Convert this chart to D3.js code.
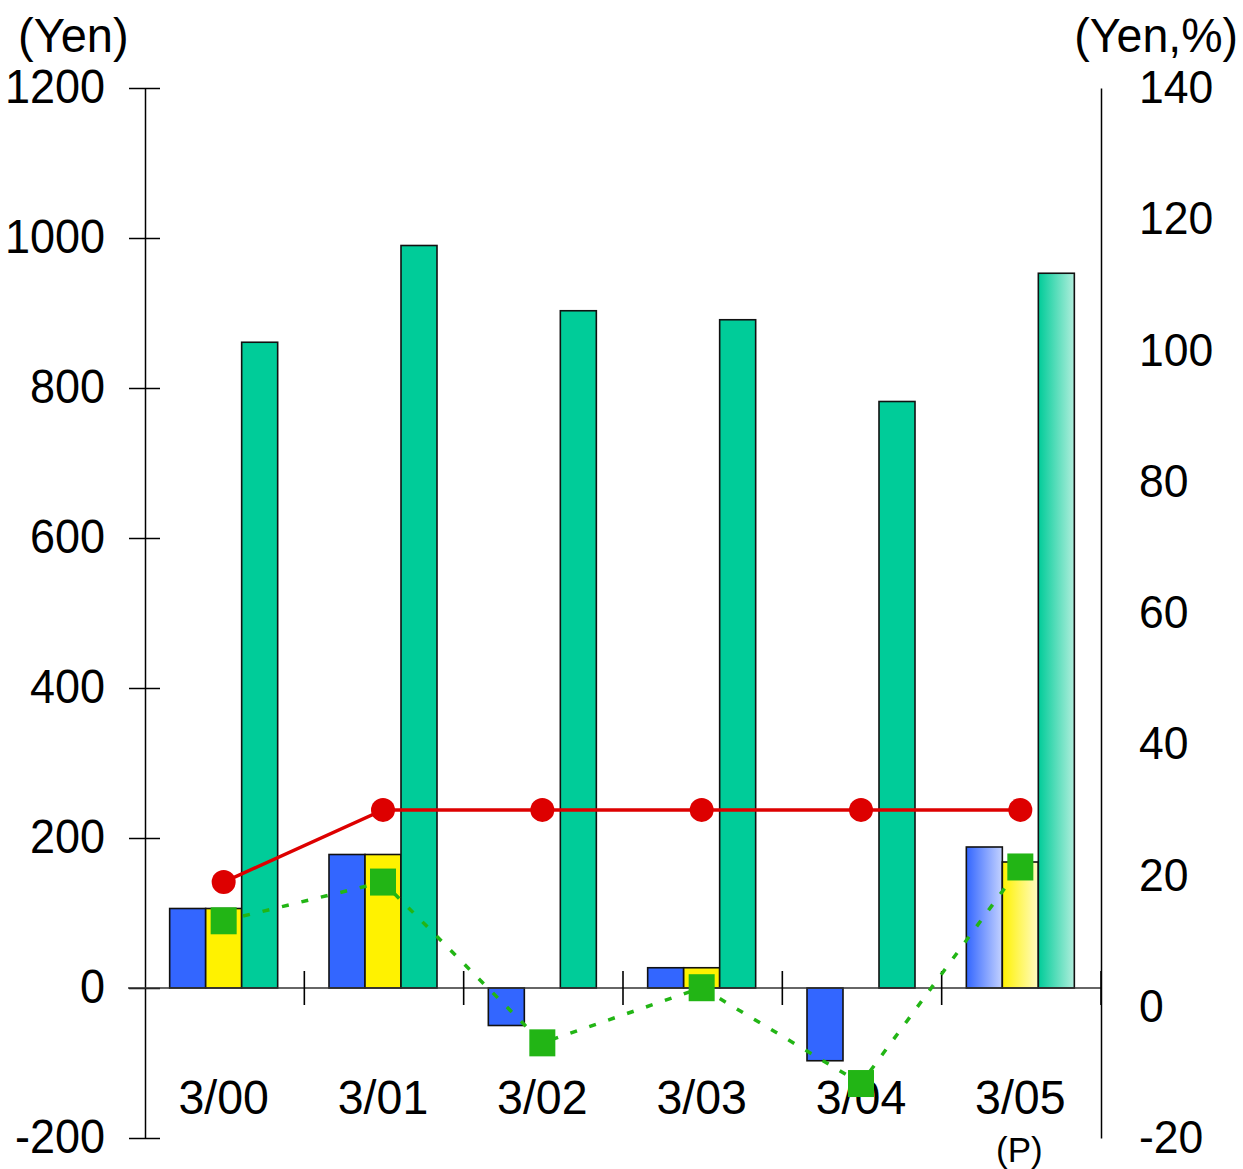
<!DOCTYPE html>
<html>
<head>
<meta charset="utf-8">
<script src="https://cdn.jsdelivr.net/npm/d3@7"></script>
<style>
  html, body { margin: 0; padding: 0; background: #fff; }
  svg { display: block; }
  text { font-family: "Liberation Sans", Arial, sans-serif; fill: #000; }
</style>
</head>
<body>
<svg id="chart" width="1243" height="1169"></svg>
<script>
// ---- data ----
const categories = ["3/00", "3/01", "3/02", "3/03", "3/04", "3/05"];
const blueValues = [106, 178, -50, 27, -97, 188];
const yellowValues = [106, 178, 0, 27, 0, 168];
const greenValues = [861, 990, 903, 891, 782, 953];
const redLineValues = [19, 30, 30, 30, 30, 30];
const greenLineValues = [13.1, 19, -5.5, 2.9, -11.7, 21.3];
const leftTicks = [-200, 0, 200, 400, 600, 800, 1000, 1200];
const rightTicks = [-20, 0, 20, 40, 60, 80, 100, 120, 140];
const forecastIndex = 5;

// ---- layout ----
const svg = d3.select("#chart");
const x = d3.scaleBand().domain(categories).range([145, 1101]).padding(0);
const yL = d3.scaleLinear().domain([-200, 1200]).range([1138, 88]);
const yR = d3.scaleLinear().domain([-20, 140]).range([1138, 88]);
const barW = 36;
const cx = c => x(c) + x.bandwidth() / 2 - 1;

const colors = { blue: "#3366ff", yellow: "#fff200", green: "#00cc99" };

// gradients for forecast bars
const defs = svg.append("defs");
function grad(id, c1, c2) {
  const g = defs.append("linearGradient").attr("id", id)
    .attr("x1", "0%").attr("x2", "100%").attr("y1", "0%").attr("y2", "0%");
  g.append("stop").attr("offset", "0%").attr("stop-color", c1);
  g.append("stop").attr("offset", "100%").attr("stop-color", c2);
}
grad("gBlue", "#3366ff", "#c4d2ff");
grad("gYellow", "#fff200", "#fffbc4");
grad("gGreen", "#00cc99", "#b0eedc");

function scaledText(g, str, px, py, size, anchor, sy) {
  g.append("text")
    .attr("transform", `translate(${px},${py}) scale(1,${sy})`)
    .attr("text-anchor", anchor)
    .style("font-size", size + "px")
    .text(str);
}

// ---- bars ----
const series = [
  { vals: blueValues, off: -54, color: colors.blue, g: "url(#gBlue)" },
  { vals: yellowValues, off: -18, color: colors.yellow, g: "url(#gYellow)" },
  { vals: greenValues, off: 18, color: colors.green, g: "url(#gGreen)" }
];
const barsG = svg.append("g");
series.forEach(s => {
  barsG.selectAll(null).data(categories).enter()
    .filter((c, i) => s.vals[i] !== 0)
    .append("rect")
    .attr("x", c => cx(c) + s.off)
    .attr("width", barW)
    .attr("y", c => yL(Math.max(0, s.vals[categories.indexOf(c)])))
    .attr("height", c => Math.abs(yL(s.vals[categories.indexOf(c)]) - yL(0)))
    .attr("fill", c => categories.indexOf(c) === forecastIndex ? s.g : s.color)
    .attr("stroke", "#111")
    .attr("stroke-width", 1.6);
});

// ---- axes ----
const leftAxis = d3.axisLeft(yL).tickValues(leftTicks).tickSize(16).tickSizeOuter(0).tickFormat("");
const lg = svg.append("g").attr("transform", "translate(145,0)").call(leftAxis);
lg.select(".domain").attr("stroke", "#000").attr("stroke-width", 1.5);
lg.selectAll(".tick line").attr("x1", 15).attr("stroke", "#000").attr("stroke-width", 1.5);

const rightAxis = d3.axisRight(yR).tickValues([]).tickSizeOuter(0);
const rg = svg.append("g").attr("transform", "translate(1101,0)").call(rightAxis);
rg.select(".domain").attr("stroke", "#000").attr("stroke-width", 1.5);

// zero baseline
svg.append("line")
  .attr("x1", 128).attr("x2", 1101)
  .attr("y1", yL(0)).attr("y2", yL(0))
  .attr("stroke", "#333").attr("stroke-width", 1.5);

// category separators
const sepG = svg.append("g");
categories.slice(1).concat(["__end"]).forEach(c => {
  const px = c === "__end" ? 1101 : x(c);
  sepG.append("line")
    .attr("x1", px).attr("x2", px)
    .attr("y1", yL(0) - 17).attr("y2", yL(0) + 17)
    .attr("stroke", "#000").attr("stroke-width", 1.6);
});

// tick labels
const labels = svg.append("g");
leftTicks.forEach(v => scaledText(labels, String(v), 105, yL(v) + 15, 45, "end", 1.05));
rightTicks.forEach(v => scaledText(labels, String(v), 1139, yR(v) + 15, 44.5, "start", 1.05));
categories.forEach(c => scaledText(labels, c, cx(c), 1114, 46.5, "middle", 1.02));
scaledText(labels, "(P)", cx(categories[forecastIndex]) - 1, 1162, 35, "middle", 1.0);
scaledText(labels, "(Yen)", 18, 52, 47, "start", 1.04);
scaledText(labels, "(Yen,%)", 1238, 52, 46.5, "end", 1.04);

// ---- red line ----
const line = d3.line().x((d, i) => cx(categories[i])).y(d => yR(d));
svg.append("path").datum(redLineValues)
  .attr("d", line).attr("fill", "none")
  .attr("stroke", "#dd0000").attr("stroke-width", 3.5);
svg.selectAll(null).data(redLineValues).enter().append("circle")
  .attr("cx", (d, i) => cx(categories[i]))
  .attr("cy", d => yR(d)).attr("r", 12)
  .attr("fill", "#dd0000");

// ---- green dashed line ----
svg.append("path").datum(greenLineValues)
  .attr("d", line).attr("fill", "none")
  .attr("stroke", "#22b515").attr("stroke-width", 3.5)
  .attr("stroke-dasharray", "7,13");
svg.selectAll(null).data(greenLineValues).enter().append("rect")
  .attr("x", (d, i) => cx(categories[i]) - 13)
  .attr("y", d => yR(d) - 13.5)
  .attr("width", 26).attr("height", 27)
  .attr("fill", "#22b515");
</script>
</body>
</html>
